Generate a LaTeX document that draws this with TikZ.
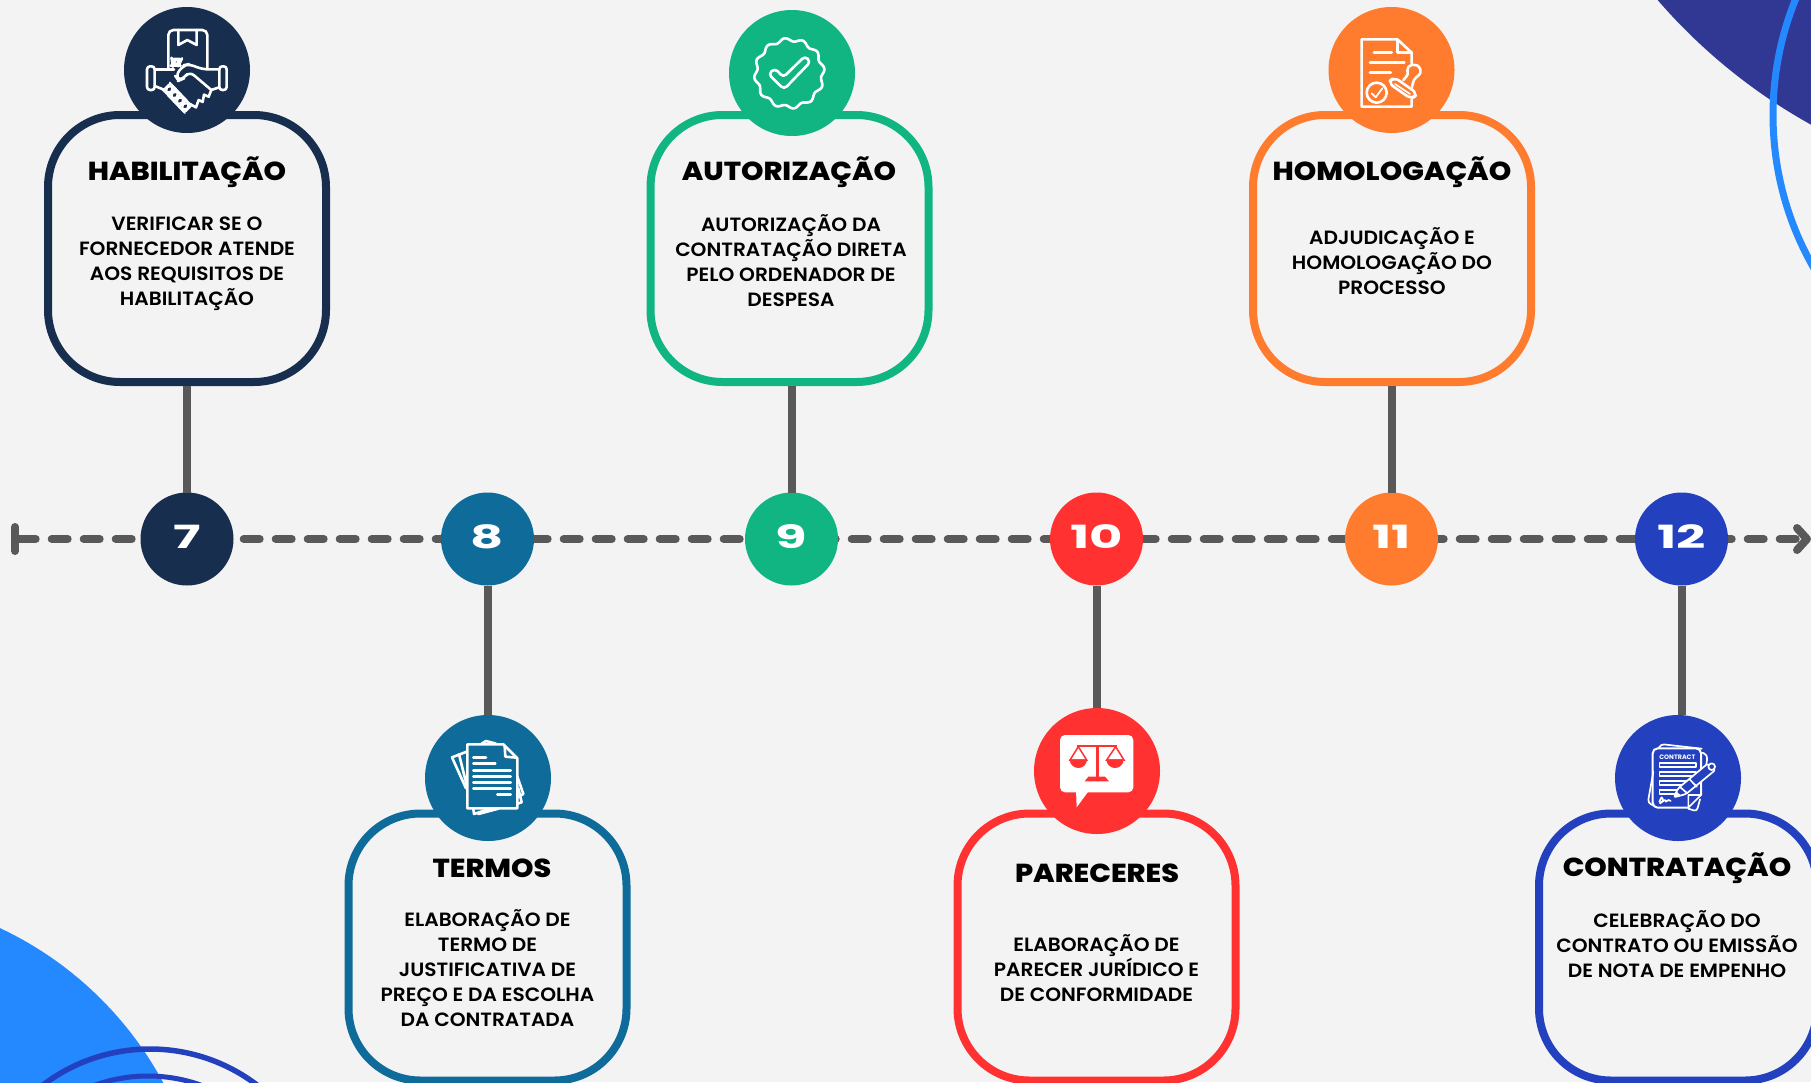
\documentclass[tikz,border=0pt]{standalone}
\usepackage{fontspec}
\setmainfont{Poppins}
\newfontfamily\bodyfont[FakeStretch=1.05]{Poppins SemiBold}
\newfontfamily\titlefont[FakeStretch=1.1]{Poppins ExtraBold}
\newfontfamily\smallfont{Poppins Bold}
\newfontfamily\numfont[FakeStretch=1.6]{Poppins Bold}
\definecolor{bgc}{HTML}{F3F3F3}
\definecolor{navy}{HTML}{172E4E}
\definecolor{teal}{HTML}{0F6C9A}
\definecolor{grn}{HTML}{10B582}
\definecolor{rd}{HTML}{FF3131}
\definecolor{org}{HTML}{FF7B2E}
\definecolor{blu}{HTML}{2340BE}
\definecolor{indigo}{HTML}{313894}
\definecolor{sky}{HTML}{2488FF}
\definecolor{gry}{HTML}{595959}
\tikzset{
  boxn/.style={draw=#1,line width=8pt,rounded corners=72pt,minimum width=278pt,minimum height=267pt,outer sep=4pt,inner sep=0pt},
  bigc/.style={circle,fill=#1,minimum size=126pt,inner sep=0pt,outer sep=0pt},
  numc/.style={circle,fill=#1,minimum size=93pt,inner sep=0pt,outer sep=0pt},
  numt/.style={inner sep=0pt,text=white,font=\numfont\fontsize{32}{32}\selectfont},
  stemline/.style={draw=gry,line width=8pt},
  ttl/.style={inner sep=0pt,font=\titlefont\fontsize{26}{30}\selectfont,text=black},
  bodytxt/.style={inner sep=0pt,align=center,font=\bodyfont\fontsize{19.2}{25}\selectfont,text=black},
  ic/.style={draw=white,line width=2.6pt,line join=round,line cap=round},
  ict/.style={draw=white,line width=1.7pt,line join=round,line cap=round},
  zm/.style={shift={#1},scale=0.33333},
}
\begin{document}
\begin{tikzpicture}[x=1pt,y=-1pt]
\useasboundingbox (0,0) rectangle (1811,1082);
\clip (0,0) rectangle (1811,1082);
\fill[bgc] (0,0) rectangle (1811,1082);
% decoration
\fill[indigo] (2083.7,-368) circle (563);
\draw[sky,line width=7pt] (2080,115) circle (307);
\fill[sky] (-151.4,1251.5) circle (357);
\draw[blu,line width=5.5pt] (150,1226) circle (177);
\draw[blu,line width=5pt] (148,1233) circle (157);
% timeline
\coordinate (tlstart) at (15,539);
\coordinate (tldash) at (35.7,539);
\coordinate (tlend) at (1795.7,539);
\coordinate (barA) at (15,527);
\coordinate (barB) at (15,551);
\coordinate (tipA) at (1797,528);
\coordinate (tipB) at (1807,539);
\coordinate (tipC) at (1797,550);
\draw[gry,line width=8pt,line cap=round] (barA) -- (barB);
\draw[gry,line width=8pt,line cap=round] (tlstart) -- (tldash);
\draw[gry,line width=8pt,line cap=round,dash pattern=on 16pt off 16pt] (tldash) ++(16,0) -- (tlend);
\draw[gry,line width=8pt,line cap=round,line join=round] (tipA) -- (tipB) -- (tipC);
% boxes
\node[boxn=navy] (b7) at (187,248.5) {};
\node[boxn=grn] (b9) at (789.5,248.5) {};
\node[boxn=org] (b11) at (1392,248.5) {};
\node[boxn=teal] (b8) at (487.5,947) {};
\node[boxn=rd] (b10) at (1096.5,947) {};
\node[boxn=blu] (b12) at (1678,947) {};
% big circles
\node[bigc=navy] (c7) at (187,70) {};
\node[bigc=grn] (c9) at (792,73) {};
\node[bigc=org] (c11) at (1391.5,70) {};
\node[bigc=teal] (c8) at (488,778) {};
\node[bigc=rd] (c10) at (1097,771) {};
\node[bigc=blu] (c12) at (1678,778) {};
% number circles
\node[numc=navy] (n7) at (187,539) {};
\node[numc=teal] (n8) at (487.5,539) {};
\node[numc=grn] (n9) at (791.5,539) {};
\node[numc=rd] (n10) at (1096.5,539) {};
\node[numc=org] (n11) at (1391.5,539) {};
\node[numc=blu] (n12) at (1681.5,539) {};
\node[numt] (l7) at (187,536.5) {7};
\node[numt] (l8) at (487.5,536.5) {8};
\node[numt] (l9) at (791.5,536.5) {9};
\node[numt] (l10) at (1096.5,536.5) {10};
\node[numt] (l11) at (1391.5,536.5) {11};
\node[numt] (l12) at (1681.5,536.5) {12};
% connectors
\draw[stemline] (n7 |- b7.south) -- (n7.north);
\draw[stemline] (n9 |- b9.south) -- (n9.north);
\draw[stemline] (n11 |- b11.south) -- (n11.north);
\draw[stemline] (n8.south) -- (n8 |- c8.north);
\draw[stemline] (n10.south) -- (n10 |- c10.north);
\draw[stemline] (n12.south) -- (n12 |- c12.north);
% titles
\node[ttl] (t7) at (187,172) {HABILITAÇÃO};
\node[ttl] (t9) at (789,172) {AUTORIZAÇÃO};
\node[ttl] (t11) at (1392,172) {HOMOLOGAÇÃO};
\node[ttl] (t8) at (492,868) {TERMOS};
\node[ttl] (t10) at (1097,873) {PARECERES};
\node[ttl] (t12) at (1677,868.5) {CONTRATAÇÃO};
% body
\node[bodytxt] (d7) at (187,264) {VERIFICAR SE O\\FORNECEDOR ATENDE\\AOS REQUISITOS DE\\HABILITAÇÃO};
\node[bodytxt] (d9) at (791,261) {AUTORIZAÇÃO DA\\CONTRATAÇÃO DIRETA\\PELO ORDENADOR DE\\DESPESA};
\node[bodytxt] (d11) at (1392,261.5) {ADJUDICAÇÃO E\\HOMOLOGAÇÃO DO\\PROCESSO};
\node[bodytxt] (d8) at (487.5,968.5) {ELABORAÇÃO DE\\TERMO DE\\JUSTIFICATIVA DE\\PREÇO E DA ESCOLHA\\DA CONTRATADA};
\node[bodytxt] (d10) at (1096.5,968.5) {ELABORAÇÃO DE\\PARECER JURÍDICO E\\DE CONFORMIDADE};
\node[bodytxt] (d12) at (1677,944.5) {CELEBRAÇÃO DO\\CONTRATO OU EMISSÃO\\DE NOTA DE EMPENHO};
% icon 7: handshake
\begin{scope}[zm={(100,0)}]
 \draw[ic,rounded corners=5pt] (205,205) -- (205,90) -- (322,90) -- (322,205);
 \draw[ic] (235,90) -- (235,135) -- (262,120) -- (290,135) -- (290,90);
 \draw[ic,rounded corners=3pt] (141,199) rectangle (164,270);
 \draw[ic,rounded corners=3pt] (358,199) rectangle (380,270);
 \draw[ic] (164,208) -- (222,208);
 \draw[ic,fill=navy,rounded corners=8pt] (215,177) -- (245,177) -- (236,197) -- (218,197) -- cycle;
 \draw[ic,rounded corners=6pt] (358,208) -- (306,208) -- (268,192) -- (250,196) -- (226,228) -- (236,242) -- (250,236) -- (268,214) -- (334,270);
 \draw[ic] (358,262) -- (334,270) -- (326,290) -- (312,284) -- (308,306) -- (296,300) -- (288,322) -- (270,312);
 \draw[ic] (164,258) -- (194,270);
 \foreach \cx/\cy in {208/268,224/285,240/302,256/319}
  \draw[ic,line width=2pt,fill=navy,rotate around={45:(\cx,\cy)},rounded corners=8pt] (\cx-15,\cy-11) rectangle (\cx+15,\cy+11);
\end{scope}
% icon 9: badge
\begin{scope}[zm={(710,0)}]
 \draw[ic] plot[domain=0:360,samples=145,smooth] ({238+(101+5*cos(12*\x+90))*cos(\x)},{220+(101+5*cos(12*\x+90))*sin(\x)});
 \draw[ic,rounded corners=4pt] (175,222) -- (195,205) -- (220,232) -- (285,168) -- (302,185) -- (222,268) -- cycle;
\end{scope}
% icon 11: stamp document
\begin{scope}[zm={(1310,0)}]
 \draw[ic] (305,190) -- (305,158) -- (262,118) -- (155,118) -- (155,320) -- (305,320) -- (305,296);
 \draw[ic] (262,118) -- (262,158) -- (305,158);
 \draw[ic] (192,158) -- (245,158);
 \draw[ic] (180,187) -- (283,187);
 \draw[ic] (180,218) -- (242,218);
 \draw[ic] (200,278) circle (30);
 \draw[ict] (185,280) -- (197,292) -- (217,265);
 \draw[ic,rounded corners=6pt] (234,248) -- (252,231) -- (323,281) -- (305,298) -- cycle;
 \draw[ict] (255,252) -- (300,282);
 \draw[ic] (280,240) .. controls (292,228) and (296,220) .. (292,212) .. controls (288,194) and (322,184) .. (331,208) .. controls (336,226) and (318,228) .. (312,240) .. controls (308,250) and (306,260) .. (304,268);
\end{scope}
% icon 8: documents
\begin{scope}[zm={(410,710)}]
 \draw[ic] (170,125) -- (126,142) -- (168,235);
 \draw[ic] (147,133) -- (170,225);
 \draw[ic] (215,101) -- (228,93) -- (258,101);
 \draw[ic] (322,200) -- (340,252) -- (322,262);
 \draw[ic] (325,235) -- (335,277) -- (322,281);
 \draw[ic] (190,297) -- (192,312) -- (240,296);
 \draw[ic] (205,312) -- (265,296);
 \draw[ic] (172,103) -- (280,103) -- (322,145) -- (322,295) -- (172,295) -- cycle;
 \draw[ic] (284,108) -- (286,140) -- (320,143);
 \draw[ic] (190,142) -- (228,142);
 \draw[ic] (190,160) -- (256,160);
 \foreach \ly in {181,199,218,236} \draw[ic] (190,\ly) -- (302,\ly);
 \draw[ic] (262,254) -- (302,254);
\end{scope}
% icon 10: scales bubble
\begin{scope}[zm={(1020,700)}]
 \fill[white,rounded corners=5pt] (120,105) rectangle (340,277);
 \fill[white] (168,270) -- (170,322) -- (208,270) -- cycle;
 \draw[rd,line width=2.6pt] (172,138) -- (290,138);
 \fill[rd] (228,138) rectangle (238,230);
 \fill[rd] (194,244) -- (205,230) -- (255,230) -- (267,244) -- cycle;
 \draw[rd,line width=1.5pt] (175,140) -- (150,180) -- (200,180) -- cycle;
 \draw[rd,line width=1.5pt] (287,140) -- (260,180) -- (312,180) -- cycle;
 \fill[rd] (149,178) arc[start angle=180,end angle=0,radius=26] -- cycle;
 \fill[rd] (259,178) arc[start angle=180,end angle=0,radius=26] -- cycle;
\end{scope}
% icon 12: contract
\begin{scope}[zm={(1600,710)}]
 \draw[ict,rounded corners=4pt] (178,110) -- (180,102) -- (305,116);
 \draw[ict,rounded corners=4pt] (160,185) -- (143,280) -- (158,285);
 \draw[ict,rounded corners=4pt] (306,128) -- (323,134) -- (316,185);
 \draw[ict,rounded corners=3pt] (265,296) -- (290,304) -- (300,268);
 \draw[ict,line width=2pt,rounded corners=5pt] (265,293) -- (158,293) -- (158,115) -- (303,115) -- (303,255);
 \draw[ict] (265,293) -- (265,255) -- (303,255) -- cycle;
 \node[text=white,inner sep=0pt,font=\smallfont\fontsize{6.4}{7}\selectfont] (ctxt) at (232,141) {CONTRACT};
 \draw[ict] (178,160) rectangle (288,170);
 \draw[ict] (178,186) rectangle (288,197);
 \draw[ict] (178,213) rectangle (270,224);
 \draw[ict] (178,240) rectangle (235,251);
 \draw[ict] plot[smooth] coordinates {(178,275) (185,262) (189,272) (180,280) (195,270) (198,275) (205,270) (212,273)};
 \draw[ict,fill=blu,rounded corners=2pt] (222,262) -- (234,235) -- (324,160) -- (346,180) -- (258,252) -- cycle;
 \draw[ict] (240,231) -- (262,250);
 \draw[ict] (268,207) -- (290,230);
 \fill[white] (222,262) -- (228,243) -- (240,254) -- cycle;
 \draw[ict,fill=blu] (335,170) circle (10);
\end{scope}
\end{tikzpicture}
\end{document}
